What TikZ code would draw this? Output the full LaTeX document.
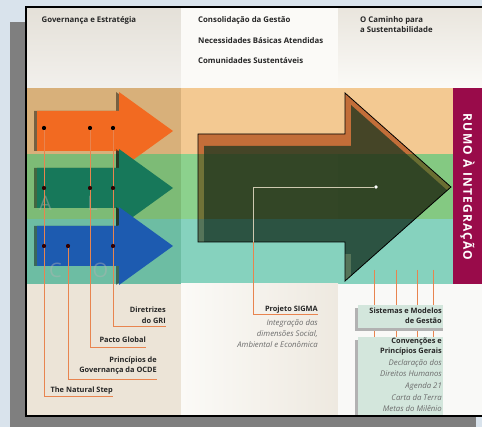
\documentclass[tikz,border=0pt]{standalone}
\usepackage{fontspec}
\setmainfont{Open Sans}
\usetikzlibrary{calc}
\definecolor{bgblue}{HTML}{D9E3EC}
\definecolor{shadowgray}{HTML}{7F7F7F}
\definecolor{topL}{HTML}{E4E0D8}
\definecolor{topLb}{HTML}{F2F0EC}
\definecolor{topM}{HTML}{FBFAF7}
\definecolor{topR}{HTML}{E9E5DD}
\definecolor{orL}{HTML}{D8B07A}
\definecolor{orM}{HTML}{F3C992}
\definecolor{grL}{HTML}{7DBB76}
\definecolor{grM}{HTML}{8CD18D}
\definecolor{grR}{HTML}{84C982}
\definecolor{tlL}{HTML}{6DBDA3}
\definecolor{tlM}{HTML}{86D2BE}
\definecolor{botL}{HTML}{ECE4D7}
\definecolor{botM}{HTML}{EEE9E0}
\definecolor{botR}{HTML}{F9F9F7}
\definecolor{crimson}{HTML}{990B4A}
\definecolor{arrOr}{HTML}{F26A21}
\definecolor{arrGr}{HTML}{17785A}
\definecolor{arrBl}{HTML}{1D5BB0}
\definecolor{lineor}{HTML}{E8844F}
\definecolor{boxfill}{HTML}{D3E6DC}
\definecolor{txt}{HTML}{262626}
\newcommand{\SArr}[1]{(37,#1-20) -- (119,#1-20) -- (119,#1-39) -- (173,#1) -- (119,#1+39) -- (119,#1+20) -- (37,#1+20) -- cycle}
\newcommand{\BArr}{(198,134) -- (345,134) -- (345,93) -- (451,187) -- (345,281) -- (345,242) -- (198,242) -- cycle}
\tikzset{
  hd/.style={font=\fontsize{7.8}{10}\selectfont\bfseries, text=txt, inner sep=0pt, anchor=west, align=left},
  lbl/.style={font=\fontsize{7.4}{10.5}\selectfont\bfseries, text=txt, inner sep=0pt, anchor=east, align=right},
  ital/.style={font=\fontsize{7.8}{11}\selectfont\itshape, text=black!58, inner sep=0pt, anchor=east, align=right},
  conn/.style={draw=lineor, line width=0.6pt},
  blackdot/.style={circle, fill=black, inner sep=0pt, minimum size=4pt},
  ghost/.style={font=\fontsize{20}{20}\selectfont, text=black!30, text opacity=0.45, inner sep=0pt},
  infobox/.style={fill=boxfill, draw=none},
}
\begin{document}
\begin{tikzpicture}[x=1pt,y=-1pt]
\useasboundingbox (0,0) rectangle (482,427);
\fill[bgblue] (0,0) rectangle (482,427);
\fill[shadowgray] (10,22) rectangle (476,431);
% top area
\shade[top color=topL, bottom color=topLb] (26,7) rectangle (181,88);
\fill[topM] (181,7) rectangle (338,88);
\shade[top color=topR, bottom color=topM] (338,7) rectangle (482,88);
% orange band
\fill[orL] (26,88) rectangle (181,154);
\fill[orM] (181,88) rectangle (453,154);
% green band
\fill[grL] (26,154) rectangle (181,219);
\fill[grM] (181,154) rectangle (338,219);
\fill[grR] (338,154) rectangle (453,219);
% teal band
\fill[tlL] (26,219) rectangle (181,284);
\fill[tlM] (181,219) rectangle (453,284);
% bottom area
\fill[botL] (26,284) rectangle (181,416);
\shade[left color=topM, right color=botM] (181,284) rectangle (338,416);
\fill[botR] (338,284) rectangle (482,416);
% crimson band
\fill[crimson] (453,88) rectangle (482,284);
\node[rotate=-90, text=white, font=\fontsize{12}{12}\selectfont\bfseries\addfontfeature{LetterSpace=10}] (rumo) at (467.5,187) {RUMO À INTEGRAÇÃO};

% headings
\node[hd] (h1) at (41.5,20) {Governança e Estratégia};
\node[hd] (h2) at (198,20) {Consolidação da Gestão};
\node[hd] (h3) at (198,41) {Necessidades Básicas Atendidas};
\node[hd] (h4) at (198,61) {Comunidades Sustentáveis};
\node[hd] (h5) at (360,25) {O Caminho para\\a Sustentabilidade};

% small arrows with shadows
\fill[black, opacity=.45, xshift=-3pt] \SArr{131};
\fill[arrOr] \SArr{131};
\fill[black, opacity=.45, xshift=-3pt] \SArr{188};
\fill[arrGr] \SArr{188};
\fill[black, opacity=.45, xshift=-3pt] \SArr{246};
\fill[arrBl] \SArr{246};

% ghost letters
\node[ghost] (gA) at (45.5,203) {A};
\node[ghost] (gL) at (92.5,203) {L};
\node[ghost] (gC) at (55.5,270) {C};
\node[ghost] (gO) at (100.5,270) {O};

% big arrow
\begin{scope}
  \begin{scope}[blend mode=multiply]
    \fill[fill={rgb,255:red,205;green,140;blue,100}] \BArr;
  \end{scope}
  \clip \BArr;
  \fill[fill={rgb,255:red,34;green,58;blue,34}, opacity=.78, shift={(6,12)}] \BArr;
  \fill[fill={rgb,255:red,30;green,120;blue,130}, opacity=.28] (190,219) rectangle (460,290);
\end{scope}
\draw[black, line width=0.8pt, line join=miter] \BArr;

% dots on small arrows
\node[blackdot] (o1) at (44,128) {};
\node[blackdot] (o2) at (90,128) {};
\node[blackdot] (o3) at (113,128) {};
\node[blackdot, fill=black!80!red] (g1) at (44,188) {};
\node[blackdot, fill=black!80!red] (g2) at (90,188) {};
\node[blackdot, fill=black!80!red] (g3) at (113,188) {};
\node[blackdot, fill=black!80!red] (b1) at (44,246) {};
\node[blackdot, fill=black!80!red] (b2) at (68,246) {};
\node[blackdot, fill=black!80!red] (b3) at (113,246) {};

% label line ends
\coordinate (grE) at (166,326);
\coordinate (pgE) at (146,347);
\coordinate (ocE) at (157,379);
\coordinate (nsE) at (113,396);
\draw[conn] (o1) |- (nsE);
\draw[conn] (b2) |- (ocE);
\draw[conn] (o2) |- (pgE);
\draw[conn] (o3) |- (grE);
\foreach \n in {o1,o2,o3} \fill[black] (\n) circle (2pt);
\foreach \n in {g1,g2,g3,b1,b2,b3} \fill[black!80!red] (\n) circle (2pt);

% left labels
\node[lbl] (gri) at (166,315) {Diretrizes\\do GRI};
\node[lbl] (pg) at (146,340) {Pacto Global};
\node[lbl] (ocde) at (157,365.5) {Princípios de\\Governança da OCDE};
\node[lbl] (ns) at (113,390.5) {The Natural Step};

% SIGMA connector
\node[circle, fill=white, inner sep=0pt, minimum size=3.6pt] (sdot) at (376,187) {};
\coordinate (sc) at (253,187);
\coordinate (sE) at (318,314);
\draw[conn] (sdot) -- (sc) |- (sE);
\begin{scope}
  \clip \BArr;
  \draw[draw={rgb,255:red,205;green,200;blue,175}, line width=0.6pt] (sdot) -- (sc) -- (253,245);
\end{scope}
\node[lbl] (sigma) at (318,309.5) {Projeto SIGMA};
\node[ital] (sigmat) at (318,334) {Integração das\\dimensões Social,\\Ambiental e Econômica};

% right column lines
\coordinate (r1t) at (374,270); \coordinate (r1b) at (374,337);
\coordinate (r2t) at (396,270); \coordinate (r2b) at (396,337);
\coordinate (r3t) at (417,270); \coordinate (r3b) at (417,337);
\coordinate (r4t) at (433,270); \coordinate (r4b) at (433,337);
\draw[conn] (r1t) -- (r1b);
\draw[conn] (r2t) -- (r2b);
\draw[conn] (r3t) -- (r3b);
\draw[conn] (r4t) -- (r4b);

% boxes
\fill[black!30] (355,308) rectangle (443,331);
\fill[infobox] (358,305) rectangle (443,328);
\fill[black!30] (355,340) rectangle (443,416);
\fill[infobox] (358,337) rectangle (443,416);
\node[lbl] (sis) at (442,315.5) {Sistemas e Modelos\\de Gestão};
\node[lbl] (conv) at (442,346.5) {Convenções e\\Princípios Gerais};
\node[ital] (decl) at (442,368) {Declaração dos\\Direitos Humanos};
\node[ital] (ag) at (442,386) {Agenda 21};
\node[ital] (carta) at (442,403.5) {Carta da Terra\\Metas do Milênio};

% frame
\draw[black, line width=1.3pt] (482,7) -- (26,7) -- (26,416) -- (482,416);
\end{tikzpicture}
\end{document}
